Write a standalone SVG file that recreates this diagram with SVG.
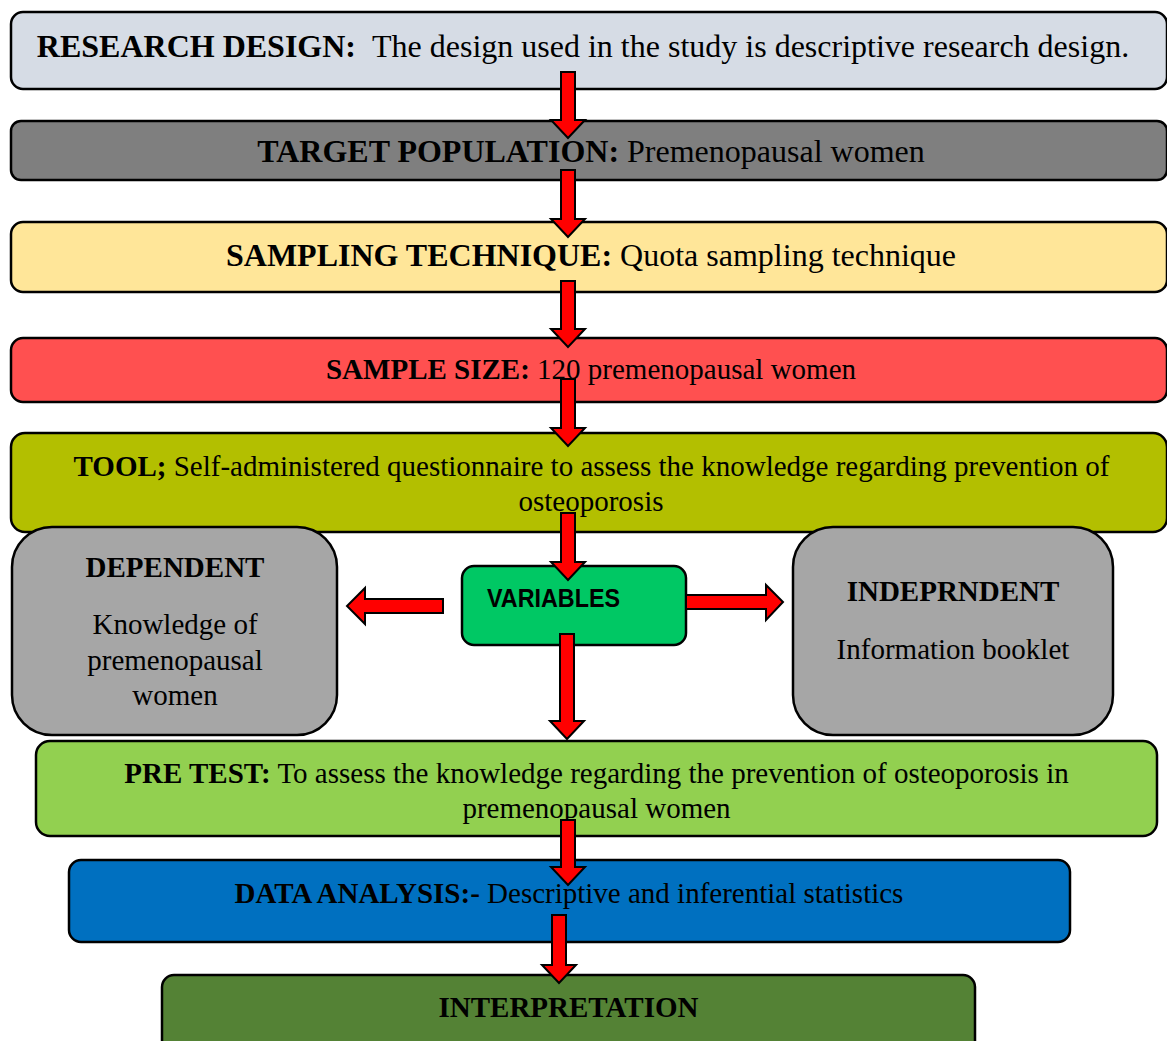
<svg xmlns="http://www.w3.org/2000/svg" width="1167" height="1041" viewBox="0 0 1167 1041">
  <style>
    .box { stroke: #000; stroke-width: 2.5; }
    .t { font-family: "Liberation Serif", "Times New Roman", serif; fill: #000; }
    .b { font-weight: bold; }
    .arrow { fill: #ff0000; stroke: #000; stroke-width: 2; stroke-linejoin: miter; }
  </style>
  <rect width="1167" height="1041" fill="#fff"/>

  <g id="research-design">
    <rect class="box" x="11" y="12" width="1156" height="77" rx="12" fill="#d6dce5"/>
    <text class="t" x="583" y="57" font-size="32" text-anchor="middle"><tspan class="b">RESEARCH DESIGN:</tspan><tspan dx="16">The design used in the study is descriptive research design.</tspan></text>
  </g>

  <g id="target-population">
    <rect class="box" x="11" y="121" width="1156" height="59" rx="10" fill="#7f7f7f"/>
    <text class="t" x="591" y="162" font-size="32" text-anchor="middle"><tspan class="b">TARGET POPULATION:</tspan> Premenopausal women</text>
  </g>

  <g id="sampling-technique">
    <rect class="box" x="11" y="222" width="1156" height="70" rx="12" fill="#ffe699"/>
    <text class="t" x="591" y="266" font-size="32" text-anchor="middle"><tspan class="b">SAMPLING TECHNIQUE:</tspan> Quota sampling technique</text>
  </g>

  <g id="sample-size">
    <rect class="box" x="11" y="338" width="1156" height="64" rx="12" fill="#ff5050"/>
    <text class="t" x="591" y="379" font-size="29" text-anchor="middle"><tspan class="b">SAMPLE SIZE:</tspan> 120 premenopausal women</text>
  </g>

  <g id="tool">
    <rect class="box" x="11" y="433" width="1156" height="99" rx="14" fill="#b3bf00"/>
    <text class="t" x="591.5" y="476" font-size="29" text-anchor="middle"><tspan class="b">TOOL;</tspan> Self-administered questionnaire to assess the knowledge regarding prevention of</text>
    <text class="t" x="591" y="511" font-size="29" text-anchor="middle">osteoporosis</text>
  </g>

  <g id="dependent">
    <rect class="box" x="12" y="527" width="325" height="208" rx="40" fill="#a6a6a6"/>
    <text class="t b" x="175" y="577" font-size="29" text-anchor="middle">DEPENDENT</text>
    <text class="t" x="175" y="634" font-size="29" text-anchor="middle">Knowledge of</text>
    <text class="t" x="175" y="670" font-size="29" text-anchor="middle">premenopausal</text>
    <text class="t" x="175" y="705" font-size="29" text-anchor="middle">women</text>
  </g>

  <g id="variables">
    <rect class="box" x="462" y="566" width="224" height="79" rx="12" fill="#00c864"/>
    <text x="487" y="607" font-family="Liberation Sans, Arial, sans-serif" font-weight="bold" font-size="25" textLength="133" lengthAdjust="spacingAndGlyphs" fill="#000">VARIABLES</text>
  </g>

  <g id="independent">
    <rect class="box" x="793" y="527" width="320" height="208" rx="40" fill="#a6a6a6"/>
    <text class="t b" x="953" y="601" font-size="29" text-anchor="middle">INDEPRNDENT</text>
    <text class="t" x="953" y="659" font-size="29" text-anchor="middle">Information booklet</text>
  </g>

  <g id="pre-test">
    <rect class="box" x="36" y="741" width="1121" height="95" rx="14" fill="#92d050"/>
    <text class="t" x="596.5" y="783" font-size="29" text-anchor="middle"><tspan class="b">PRE TEST:</tspan> To assess the knowledge regarding the prevention of osteoporosis in</text>
    <text class="t" x="596.5" y="818" font-size="29" text-anchor="middle">premenopausal women</text>
  </g>

  <g id="data-analysis">
    <rect class="box" x="69" y="860" width="1001" height="82" rx="12" fill="#0070c0"/>
    <text class="t" x="569" y="903" font-size="29" text-anchor="middle"><tspan class="b">DATA ANALYSIS:-</tspan> Descriptive and inferential statistics</text>
  </g>

  <g id="interpretation">
    <rect class="box" x="162" y="975" width="813" height="80" rx="12" fill="#548235"/>
    <text class="t b" x="568.5" y="1017" font-size="29" text-anchor="middle">INTERPRETATION</text>
  </g>

  <g id="connectors">
    <!-- block arrows: 14px shaft, 34px head, 18px head length -->
    <path class="arrow" d="M561,72 H575 V120 H585 L568,138 L551,120 H561 Z"/>
    <path class="arrow" d="M561,170 H575 V219 H585 L568,237 L551,219 H561 Z"/>
    <path class="arrow" d="M561,281 H575 V329 H585 L568,347 L551,329 H561 Z"/>
    <path class="arrow" d="M561,379 H575 V428 H585 L568,446 L551,428 H561 Z"/>
    <path class="arrow" d="M561,513 H575 V562 H585 L568,580 L551,562 H561 Z"/>
    <path class="arrow" d="M560,634 H574 V721 H584 L567,739 L550,721 H560 Z"/>
    <path class="arrow" d="M561,820 H575 V867 H585 L568,885 L551,867 H561 Z"/>
    <path class="arrow" d="M552,915 H566 V965 H576 L559,983 L542,965 H552 Z"/>
    <!-- sideways arrows to the variable boxes -->
    <path class="arrow" d="M443,599 V613 H365 V624 L347,606 L365,588 V599 Z"/>
    <path class="arrow" d="M686,595 V609 H766 V620 L783,602 L766,585 V595 Z"/>
  </g>
</svg>
